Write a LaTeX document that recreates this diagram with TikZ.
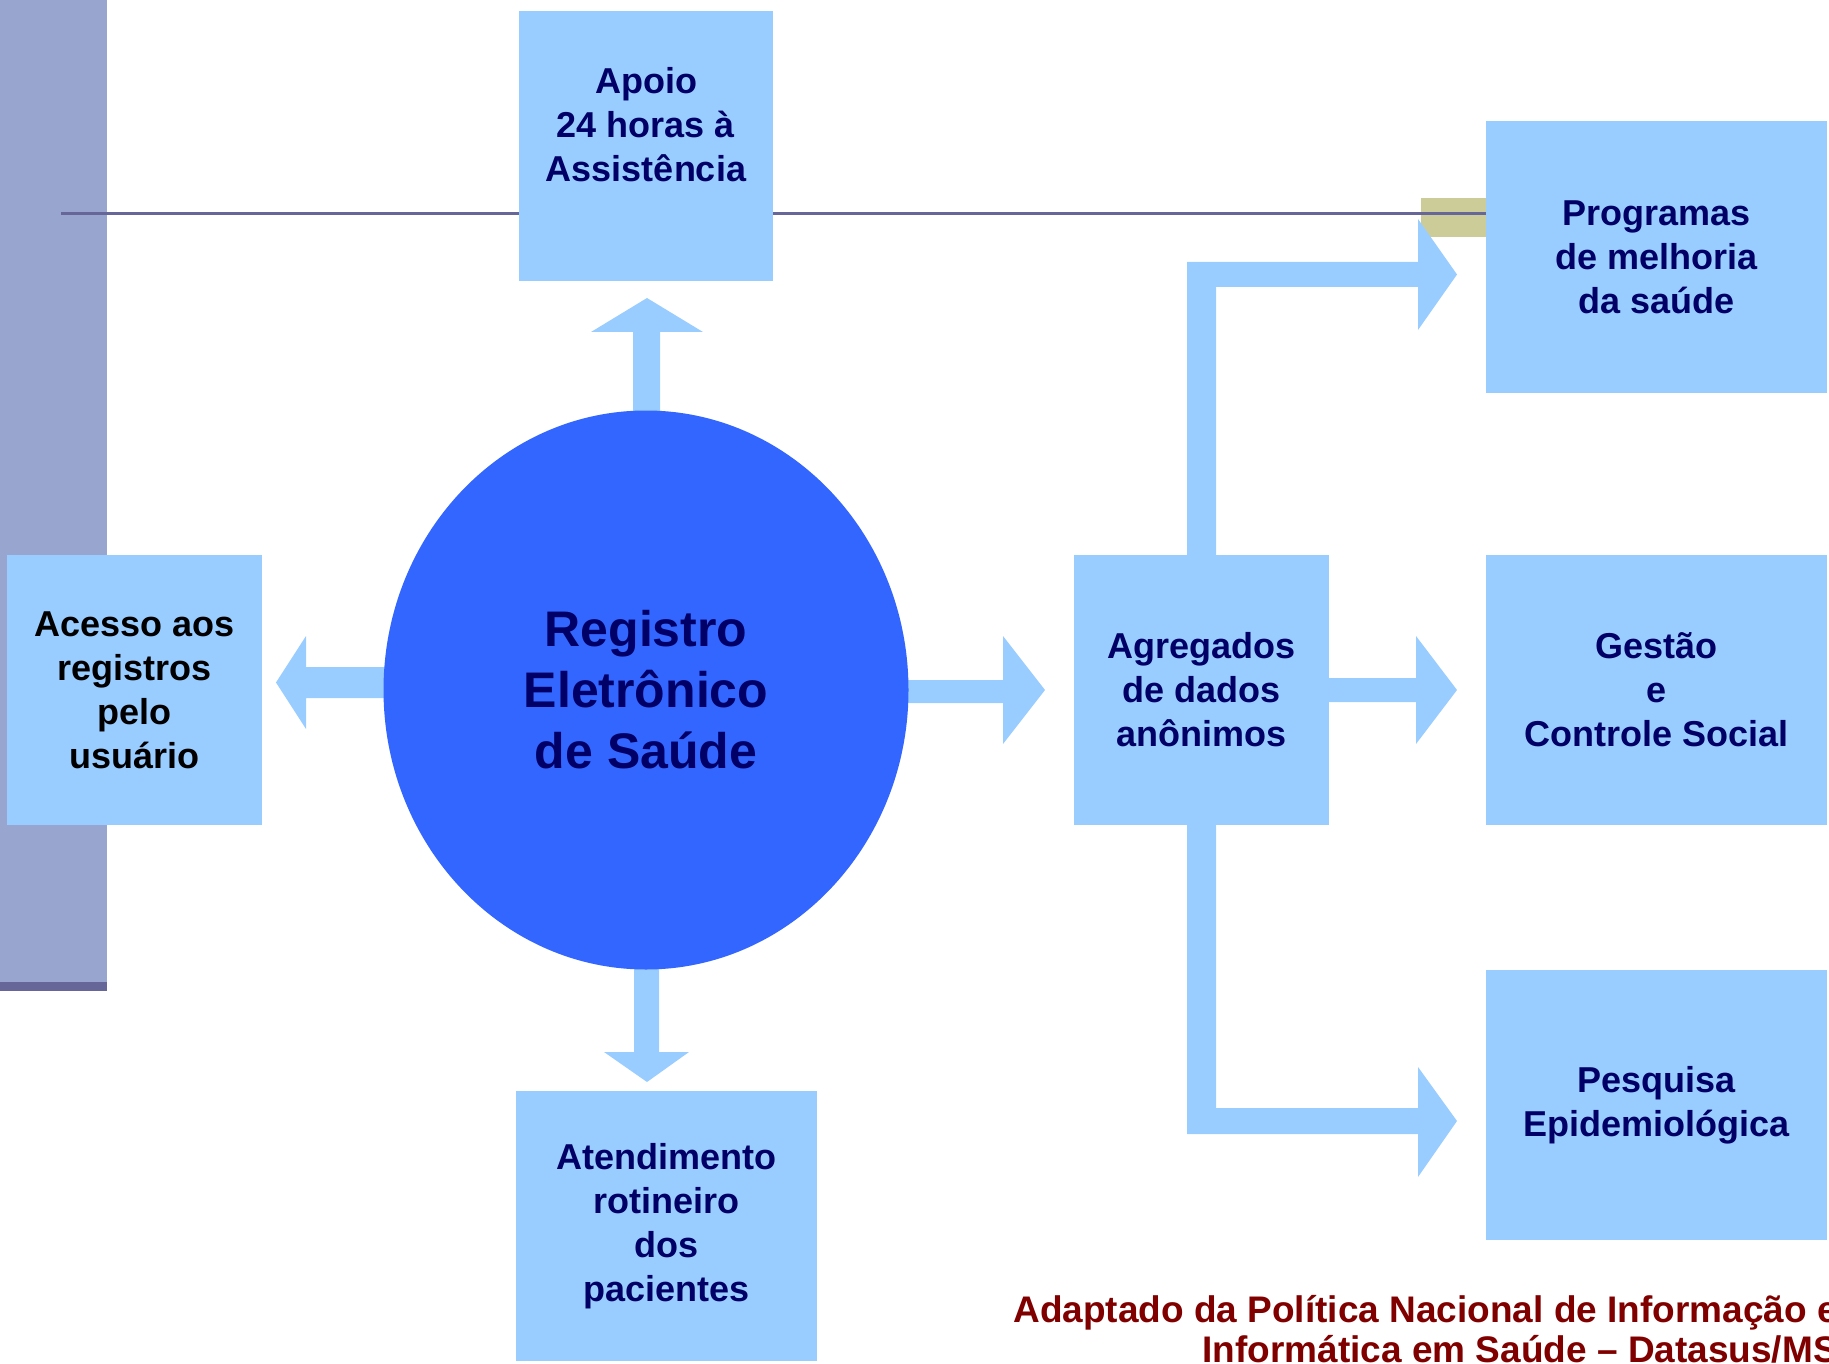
\documentclass[tikz,border=0pt]{standalone}
\usepackage{fontspec}
\setmainfont{Liberation Sans}
\usetikzlibrary{shapes.geometric}
\definecolor{boxblue}{HTML}{99CCFF}
\definecolor{circblue}{HTML}{3366FF}
\definecolor{navy}{HTML}{000066}
\definecolor{barcol}{HTML}{97A5CF}
\definecolor{linecol}{HTML}{666699}
\definecolor{olivecol}{HTML}{CCCC99}
\definecolor{creditcol}{HTML}{800000}
\begin{document}
\begin{tikzpicture}[x=1pt,y=-1pt,
  box/.style={fill=boxblue, draw=none, inner sep=0pt, align=center, text=navy,
    font=\fontsize{36}{44}\selectfont\bfseries},
  blockarrow/.style={fill=boxblue, draw=none},
  circ/.style={ellipse, fill=circblue, draw=none, inner sep=0pt, align=center, text=navy,
    minimum width=525, minimum height=559, font=\fontsize{50}{61}\selectfont\bfseries},
  credit/.style={anchor=base east, inner sep=0pt, text=creditcol,
    font=\fontsize{37}{40}\selectfont\bfseries}]
\path[use as bounding box, clip] (0,0) rectangle (1829,1364);

% background decoration
\fill[barcol] (0,0) rectangle (107,982);
\fill[linecol] (0,982) rectangle (107,991);
\fill[olivecol] (1421,198) rectangle (1486,237);
\draw[linecol, line width=3pt] (61,213.5) -- (1486,213.5);

% block arrows
\fill[blockarrow] (633,420) -- (633,332) -- (591,332) -- (647,298) -- (703,332) -- (660,332) -- (660,420) -- cycle;
\fill[blockarrow] (634,960) -- (634,1052) -- (604,1052) -- (647,1082) -- (689,1052) -- (659,1052) -- (659,960) -- cycle;
\fill[blockarrow] (395,667) -- (306,667) -- (306,636) -- (276,682.5) -- (306,729) -- (306,698) -- (395,698) -- cycle;
\fill[blockarrow] (900,680) -- (1003,680) -- (1003,636) -- (1045,690) -- (1003,744) -- (1003,703) -- (900,703) -- cycle;
\fill[blockarrow] (1320,678) -- (1416,678) -- (1416,636) -- (1457,690) -- (1416,744) -- (1416,702) -- (1320,702) -- cycle;
\fill[blockarrow] (1187,560) -- (1187,262) -- (1418,262) -- (1418,219) -- (1457,274.5) -- (1418,330) -- (1418,287) -- (1216,287) -- (1216,560) -- cycle;
\fill[blockarrow] (1187,820) -- (1187,1134) -- (1418,1134) -- (1418,1177) -- (1457,1121) -- (1418,1067) -- (1418,1108) -- (1216,1108) -- (1216,820) -- cycle;

% central ellipse
\node[circ] (reg) at (646,690) {Registro\\Eletrônico\\de Saúde};

% boxes
\node[box, minimum width=254, minimum height=270] (apoio) at (646,146) {Apoio\\24 horas à\\Assistência\\\mbox{}};
\node[box, text=black, minimum width=255, minimum height=270] (acesso) at (134.5,690) {Acesso aos\\registros\\pelo\\usuário};
\node[box, minimum width=255, minimum height=270] (agreg) at (1201.5,690) {Agregados\\de dados\\anônimos};
\node[box, minimum width=341, minimum height=272] (prog) at (1656.5,257) {Programas\\de melhoria\\da saúde};
\node[box, minimum width=341, minimum height=270] (gestao) at (1656.5,690) {Gestão\\e\\Controle Social};
\node[box, minimum width=341, minimum height=270] (pesq) at (1656.5,1105) {Pesquisa\\Epidemiológica};
\node[box, minimum width=301, minimum height=270] (atend) at (666.5,1226) {Atendimento\\rotineiro\\dos\\pacientes};

% credit
\node[credit] (cred1) at (1838,1322) {Adaptado da Política Nacional de Informação e};
\node[credit] (cred2) at (1838,1362) {Informática em Saúde – Datasus/MS};
\end{tikzpicture}
\end{document}
